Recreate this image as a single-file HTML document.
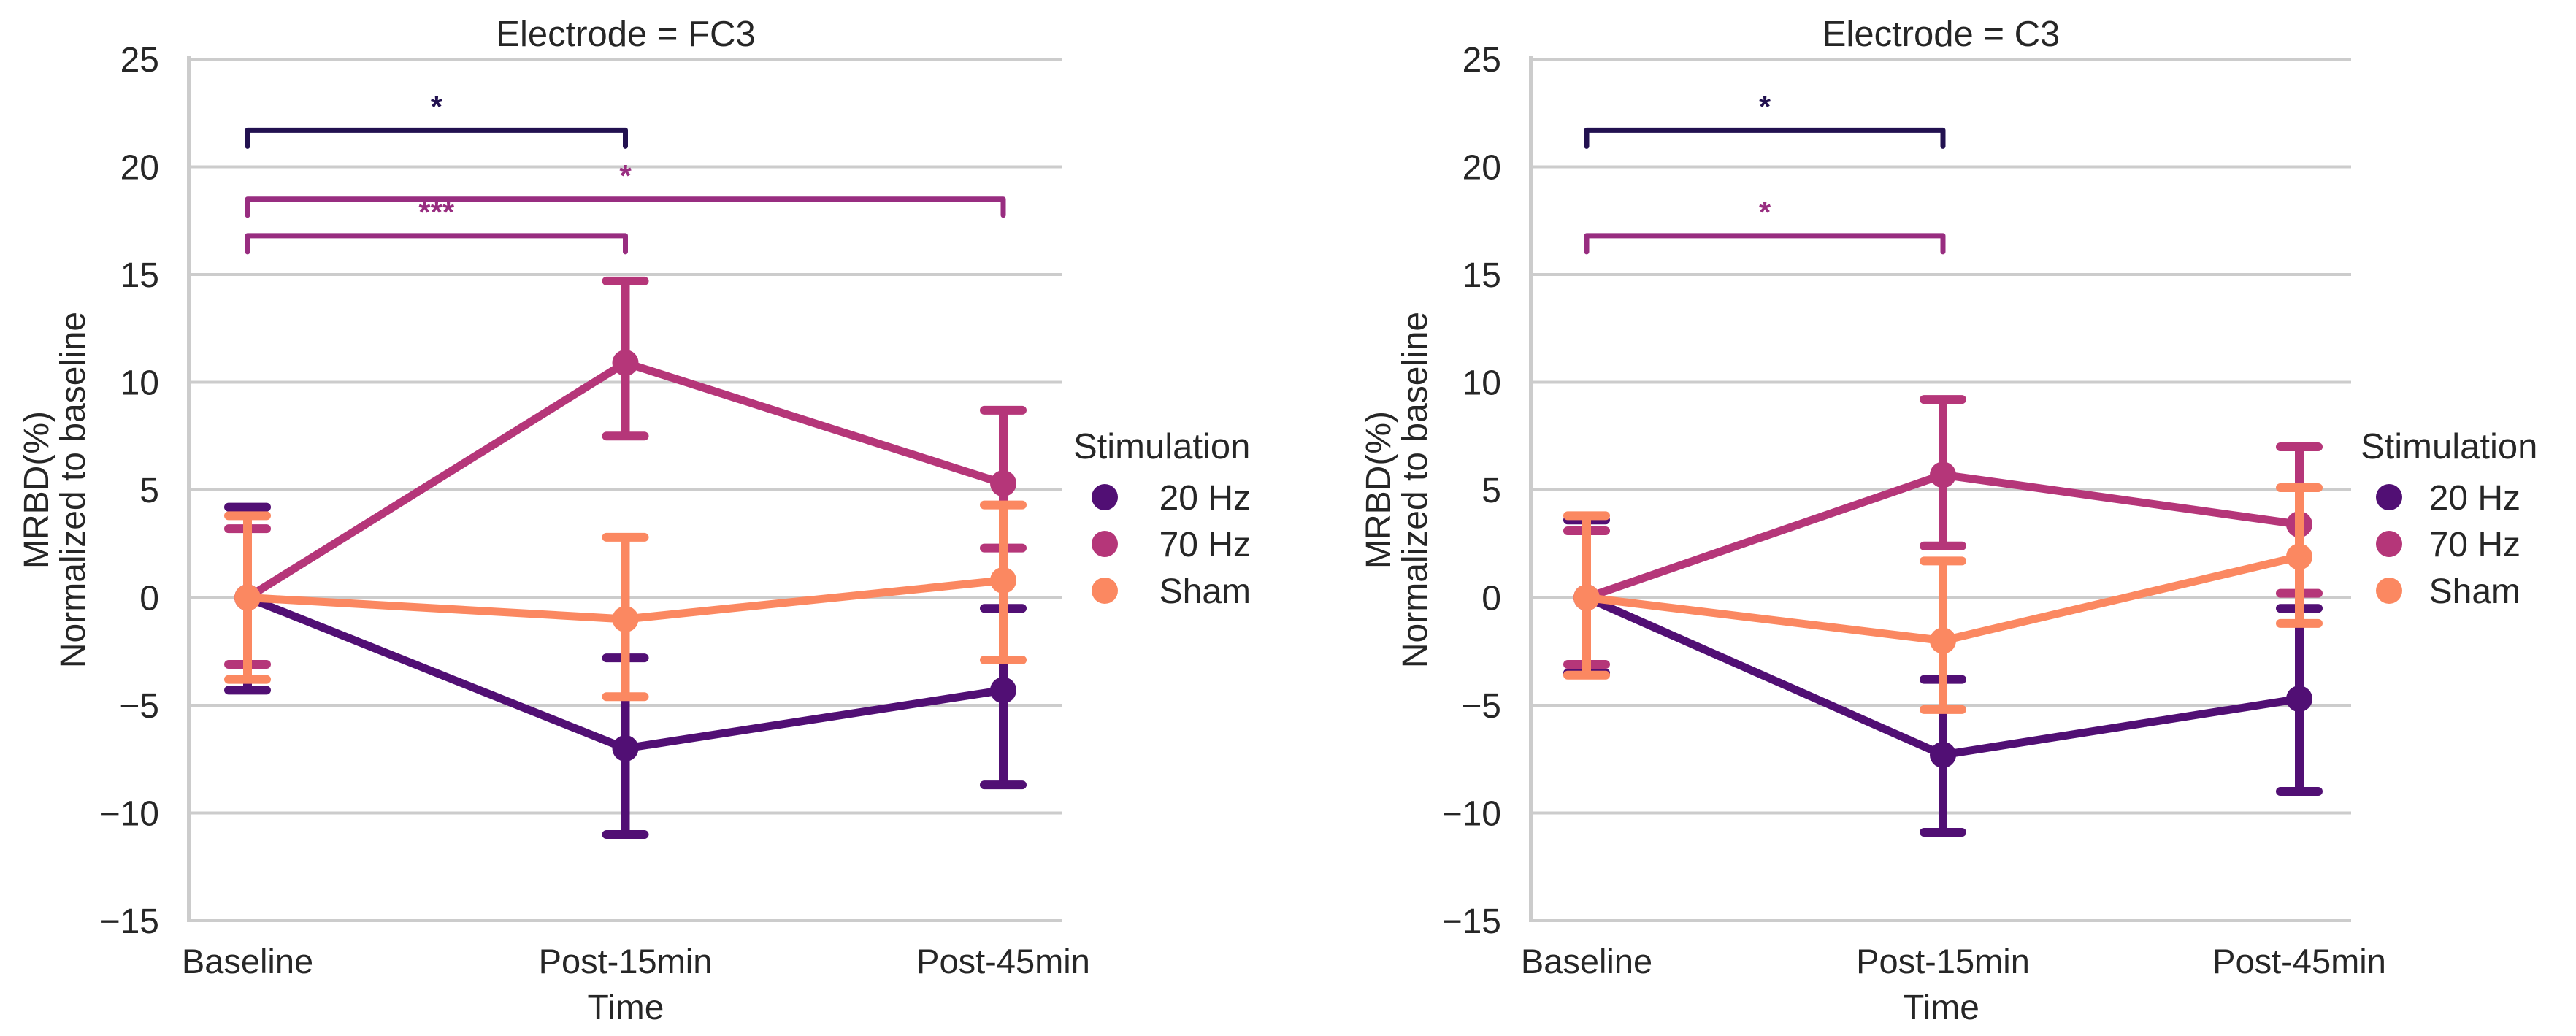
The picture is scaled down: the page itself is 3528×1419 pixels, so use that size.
<!DOCTYPE html>
<html><head><meta charset="utf-8">
<style>
html,body{margin:0;padding:0;background:#fff;}
svg{display:block;font-family:"Liberation Sans",Arial,sans-serif;}
</style></head>
<body>
<svg id="chart" width="3528" height="1419" viewBox="0 0 3528 1419" xmlns="http://www.w3.org/2000/svg"></svg>
<script>
const categories = ["Baseline", "Post-15min", "Post-45min"];
const seriesNames = ["20 Hz", "70 Hz", "Sham"];
const yTicks = [25, 20, 15, 10, 5, 0, -5, -10, -15];
// FC3 panel
const fc3Mean20 = [0, -7.0, -4.3];
const fc3Lo20 = [-4.3, -11.0, -8.7];
const fc3Hi20 = [4.2, -2.8, -0.5];
const fc3Mean70 = [0, 10.9, 5.3];
const fc3Lo70 = [-3.1, 7.5, 2.3];
const fc3Hi70 = [3.2, 14.7, 8.7];
const fc3MeanSham = [0, -1.0, 0.8];
const fc3LoSham = [-3.8, -4.6, -2.9];
const fc3HiSham = [3.8, 2.8, 4.3];
// C3 panel
const c3Mean20 = [0, -7.3, -4.7];
const c3Lo20 = [-3.5, -10.9, -9.0];
const c3Hi20 = [3.6, -3.8, -0.5];
const c3Mean70 = [0, 5.7, 3.4];
const c3Lo70 = [-3.1, 2.4, 0.2];
const c3Hi70 = [3.1, 9.2, 7.0];
const c3MeanSham = [0, -2.0, 1.9];
const c3LoSham = [-3.6, -5.2, -1.2];
const c3HiSham = [3.8, 1.7, 5.1];
// significance brackets: [fromIdx, toIdx, yValue, label, seriesIdx]
const fc3Brackets = [[0, 1, 21.7, "*", 0], [0, 2, 18.5, "*", 1], [0, 1, 16.8, "***", 1]];
const c3Brackets = [[0, 1, 21.7, "*", 0], [0, 1, 16.8, "*", 1]];

const colors = ["#510f74", "#b53679", "#fb8861"];
const bracketColors = ["#221150", "#982d80"];
const NS = "http://www.w3.org/2000/svg";
const svg = document.getElementById("chart");

function el(tag, attrs, parent, text) {
  const e = document.createElementNS(NS, tag);
  for (const k in attrs) e.setAttribute(k, attrs[k]);
  if (text !== undefined) e.textContent = text;
  (parent || svg).appendChild(e);
  return e;
}

function panel(cfg) {
  const g = el("g", {});
  
  
  const yTop = 81, yBot = 1261, vMax = 25, vMin = -15;
  const ys = v => yTop + (vMax - v) * (yBot - yTop) / (vMax - vMin);
  const xs = i => cfg.x0 + i * (cfg.x2 - cfg.x0) / (categories.length - 1);
  yTicks.forEach(t => {
    const l = el("line", {x1: cfg.spine, x2: cfg.right, y1: ys(t), y2: ys(t), stroke: "#cccccc", "stroke-width": 4}, g);
    
    
    const tx = el("text", {x: cfg.tickRight, y: ys(t) + 17, "text-anchor": "end", "font-size": 48, fill: "#262626"}, g, t < 0 ? "\u2212" + Math.abs(t) : String(t));
    
    
  });
  const sp = el("line", {x1: cfg.spine, x2: cfg.spine, y1: yTop - 4, y2: yBot + 2, stroke: "#cccccc", "stroke-width": 6}, g);
  
  
  categories.forEach((c, i) => {
    const t = el("text", {x: xs(i), y: 1333, "text-anchor": "middle", "font-size": 47, fill: "#262626"}, g, c);
    
    
  });
  const xl = el("text", {x: (cfg.spine + cfg.right) / 2, y: 1396, "text-anchor": "middle", "font-size": 48, fill: "#262626"}, g, "Time");
  
  
  const cy = (yTop + yBot) / 2;
  const yl1 = el("text", {x: 0, y: 0, "text-anchor": "middle", "font-size": 48, fill: "#262626", transform: `translate(${cfg.ylab1},${cy}) rotate(-90)`}, g, "MRBD(%)");
  
  
  const yl2 = el("text", {x: 0, y: 0, "text-anchor": "middle", "font-size": 48, fill: "#262626", transform: `translate(${cfg.ylab2},${cy}) rotate(-90)`}, g, "Normalized to baseline");
  
  
  const ti = el("text", {x: (cfg.spine + cfg.right) / 2, y: 63, "text-anchor": "middle", "font-size": 49, fill: "#262626"}, g, cfg.title);
  
  

  cfg.brackets.forEach(b => {
    const x1 = xs(b[0]), x2 = xs(b[1]), y = ys(b[2]);
    const c = bracketColors[b[4]];
    const p = el("path", {d: `M${x1},${y + 22} L${x1},${y} L${x2},${y} L${x2},${y + 22}`, fill: "none", stroke: c, "stroke-width": 7, "stroke-linecap": "round", "stroke-linejoin": "round"}, g);
    
    
    const s = el("text", {x: (x1 + x2) / 2, y: y - 18, "text-anchor": "middle", "font-size": 42, "font-weight": "bold", fill: c}, g, b[3]);
    
    
  });

  cfg.series.forEach((s, si) => {
    const col = colors[si];
    const sg = el("g", {}, g);
    
    
    const pts = s.mean.map((v, i) => xs(i) + "," + ys(v)).join(" ");
    const pl = el("polyline", {points: pts, fill: "none", stroke: col, "stroke-width": 11, "stroke-linejoin": "round"}, sg);
    
    
    s.mean.forEach((v, i) => {
      const x = xs(i);
      const eb = el("line", {x1: x, x2: x, y1: ys(s.lo[i]), y2: ys(s.hi[i]), stroke: col, "stroke-width": 12}, sg);
      
      
      [s.lo[i], s.hi[i]].forEach(v2 => {
        const cp = el("line", {x1: x - 26, x2: x + 26, y1: ys(v2), y2: ys(v2), stroke: col, "stroke-width": 12, "stroke-linecap": "round"}, sg);
        
        
      });
    });
    s.mean.forEach((v, i) => {
      const m = el("circle", {cx: xs(i), cy: ys(v), r: 18, fill: col}, sg);
      
      
    });
  });

  const lg = el("g", {}, g);
  
  
  const lt = el("text", {x: cfg.legX, y: 628, "font-size": 49, fill: "#262626"}, lg, "Stimulation");
  
  
  seriesNames.forEach((n, i) => {
    const yy = 681 + i * 64;
    const c = el("circle", {cx: cfg.legMarkX, cy: yy, r: 18, fill: colors[i]}, lg);
    
    
    const t = el("text", {x: cfg.legEnd, y: yy + 17, "text-anchor": "end", "font-size": 48, fill: "#262626"}, lg, n);
    
    
  });
}

panel({
  name: "panel-fc3", title: "Electrode = FC3",
  spine: 259, right: 1455, x0: 339, x2: 1374, tickRight: 218,
  ylab1: 66, ylab2: 116,
  legX: 1470, legMarkX: 1513, legEnd: 1713,
  brackets: fc3Brackets,
  series: [
    {mean: fc3Mean20, lo: fc3Lo20, hi: fc3Hi20},
    {mean: fc3Mean70, lo: fc3Lo70, hi: fc3Hi70},
    {mean: fc3MeanSham, lo: fc3LoSham, hi: fc3HiSham}
  ]
});
panel({
  name: "panel-c3", title: "Electrode = C3",
  spine: 2097, right: 3220, x0: 2173, x2: 3149, tickRight: 2056,
  ylab1: 1904, ylab2: 1954,
  legX: 3233, legMarkX: 3272, legEnd: 3452,
  brackets: c3Brackets,
  series: [
    {mean: c3Mean20, lo: c3Lo20, hi: c3Hi20},
    {mean: c3Mean70, lo: c3Lo70, hi: c3Hi70},
    {mean: c3MeanSham, lo: c3LoSham, hi: c3HiSham}
  ]
});
</script>
</body></html>
